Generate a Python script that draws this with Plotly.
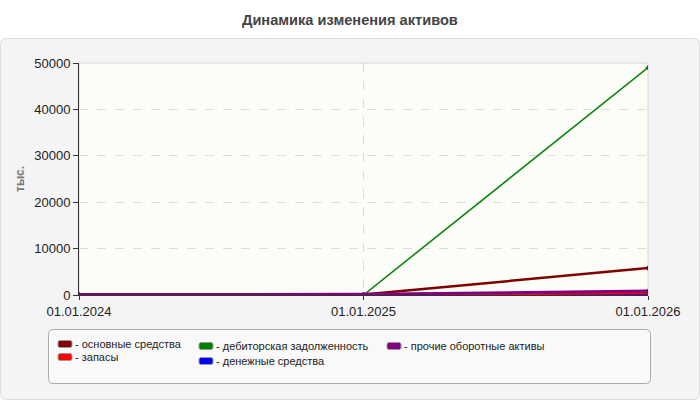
import plotly.graph_objects as go

# data
dates = ["01.01.2024", "01.01.2025", "01.01.2026"]
series_names = ["основные средства", "запасы", "дебиторская задолженность",
                "денежные средства", "прочие оборотные активы"]
fixed_assets = [0, 100, 5800]
inventory = [0, 50, 500]
receivables = [0, 0, 49000]
cash = [0, 0, 20]
other_current = [100, 150, 850]
y_ticks = [0, 10000, 20000, 30000, 40000, 50000]

colors = ["#800000", "#ff0000", "#008000", "#0000ff", "#800080"]
widths = [2.5, 3, 1.5, 3, 3]
values = [fixed_assets, inventory, receivables, cash, other_current]
draw_order = [3, 0, 1, 2, 4]  # cash underneath the rest

W, H = 700, 400
L, R, T, B = 79, 52, 63, 105
pw, ph = W - L - R, H - T - B


def px(x):
    return (x - L) / pw


def py(y):
    return (H - B - y) / ph


def rrect(x0, y0, x1, y1, r):
    # rounded rectangle path in paper coords from pixel box
    rx, ry = r / pw, r / ph
    a, b, c, d = px(x0), px(x1), py(y0), py(y1)  # c top, d bottom
    return (f"M{a+rx},{c} L{b-rx},{c} Q{b},{c} {b},{c-ry} "
            f"L{b},{d+ry} Q{b},{d} {b-rx},{d} L{a+rx},{d} Q{a},{d} {a},{d+ry} "
            f"L{a},{c-ry} Q{a},{c} {a+rx},{c} Z")


fig = go.Figure()

for i in draw_order:
    fig.add_trace(go.Scatter(
        x=dates, y=values[i], name=series_names[i], mode="lines+markers",
        line=dict(color=colors[i], width=widths[i]),
        marker=dict(symbol="diamond", size=4, color=colors[i]),
        showlegend=False
    ))

shapes = []
# outer panel
shapes.append(dict(type="path", xref="paper", yref="paper", layer="below",
                   path=rrect(0.5, 38.5, 699.5, 399.5, 6),
                   fillcolor="#f4f4f4", line=dict(color="#dddddd", width=1)))
# plot area background
shapes.append(dict(type="rect", xref="paper", yref="paper", layer="below",
                   x0=0, x1=1, y0=0, y1=1, fillcolor="#fcfdf6",
                   line=dict(color="#d8d8d8", width=1)))
# legend box
shapes.append(dict(type="path", xref="paper", yref="paper",
                   path=rrect(48.5, 329.5, 650.5, 383.5, 5),
                   fillcolor="#f9f9f9", line=dict(color="#aaaaaa", width=1)))

annotations = []
legend_pos = [(58, 344), (58, 357), (199, 346), (199, 361), (387, 346)]
for (lx, ly), name, col in zip(legend_pos, series_names, colors):
    shapes.append(dict(type="path", xref="paper", yref="paper",
                       path=rrect(lx, ly - 3.5, lx + 14, ly + 3.5, 2),
                       fillcolor=col, line=dict(color="#999999", width=1)))
    annotations.append(dict(xref="paper", yref="paper", x=px(lx + 15), y=py(ly),
                            text="- " + name, showarrow=False, xanchor="left",
                            yanchor="middle",
                            font=dict(size=11, color="#222222")))

annotations.append(dict(xref="paper", yref="paper", x=px(350), y=py(20),
                        text="<b>Динамика изменения активов</b>", showarrow=False,
                        xanchor="center", yanchor="middle",
                        font=dict(size=14.6, color="#444444")))
annotations.append(dict(xref="paper", yref="paper", x=px(20), y=0.5,
                        text="<b>тыс.</b>", showarrow=False, textangle=-90,
                        xanchor="center", yanchor="middle",
                        font=dict(size=12, color="#777777")))

fig.update_layout(
    width=W, height=H,
    margin=dict(l=L, r=R, t=T, b=B),
    paper_bgcolor="white", plot_bgcolor="rgba(0,0,0,0)",
    font=dict(family="Liberation Sans, Arial, sans-serif", size=12, color="#222222"),
    shapes=shapes, annotations=annotations,
    showlegend=False,
)
fig.update_xaxes(
    type="category", range=[0, 2], showgrid=True, gridcolor="#dddddd",
    griddash="dash", gridwidth=1, showline=True, linecolor="#333333",
    ticks="outside", ticklen=4, tickcolor="#333333", zeroline=False,
    tickfont=dict(size=13, color="#222222")
)
fig.update_yaxes(
    range=[0, 50000], tickvals=y_ticks, tickformat="d", showgrid=True,
    gridcolor="#dddddd", griddash="dash", showline=True, linecolor="#333333",
    ticks="outside", ticklen=5, tickcolor="#333333", zeroline=False,
    tickfont=dict(size=13, color="#222222")
)

fig.write_html("out.html", config={"displayModeBar": False},
               post_script="document.body.style.margin='0';")
